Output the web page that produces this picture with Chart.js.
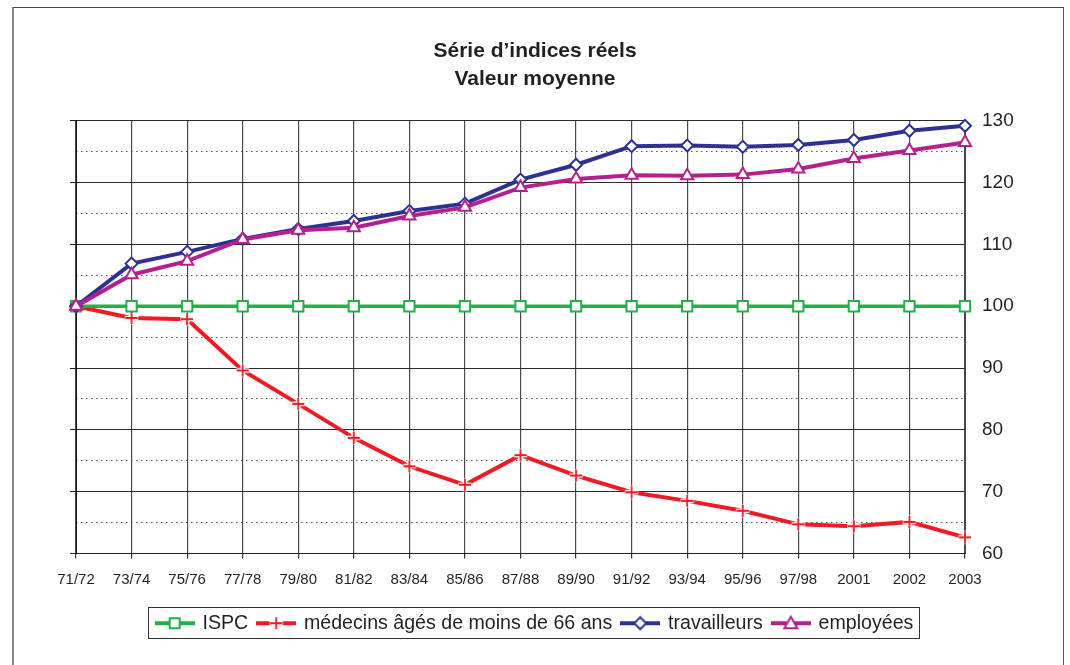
<!DOCTYPE html>
<html lang="fr">
<head>
    <meta charset="UTF-8">
    <title>Série d'indices réels</title>
    <script src="https://cdn.jsdelivr.net/npm/chart.js"></script>
    <style>
        body { margin: 0; background: #fff; }
        #wrap { position: relative; width: 1070px; height: 665px; }
        #frame {
            position: absolute; left: 12px; top: 7px; width: 1049px; height: 700px;
            border-left: 2px solid #8a8a8a; border-top: 1px solid #444; border-right: 1px solid #555;
            pointer-events: none;
        }
    </style>
</head>
<body>
<div id="wrap">
    <canvas id="myChart" width="1070" height="665"></canvas>
    <div id="frame"></div>
</div>

<script>
    // data
    const periodes = ['71/72', '73/74', '75/76', '77/78', '79/80', '81/82', '83/84', '85/86', '87/88',
        '89/90', '91/92', '93/94', '95/96', '97/98', '2001', '2002', '2003'];
    const ispc = [100, 100, 100, 100, 100, 100, 100, 100, 100, 100, 100, 100, 100, 100, 100, 100, 100];
    const medecins = [100, 98.1, 97.9, 89.6, 84.2, 78.7, 74.1, 71.1, 75.9, 72.6, 69.9, 68.5, 66.9, 64.7, 64.4, 65.1, 62.6];
    const travailleurs = [100, 106.9, 108.8, 110.9, 112.5, 113.8, 115.4, 116.6, 120.5, 122.9, 125.9, 126.0, 125.8, 126.1, 126.9, 128.4, 129.2];
    const employees = [100, 105.1, 107.3, 110.8, 112.3, 112.7, 114.6, 116.0, 119.2, 120.6, 121.2, 121.1, 121.3, 122.2, 123.9, 125.2, 126.5];
    const seriesNames = ['ISPC', 'médecins âgés de moins de 66 ans', 'travailleurs', 'employées'];

    const GREEN = '#22b04b', RED = '#ed1c24', BLUE = '#2e3192', MAGENTA = '#b4218e';
    const INK = '#231f20';
    const FONT = 'Liberation Sans, Arial, sans-serif';

    // draw one marker on a 2d context, centred on (x, y)
    function marker(g, kind, color, x, y) {
        g.save();
        g.fillStyle = '#fff';
        g.strokeStyle = color;
        g.lineWidth = 2;
        g.beginPath();
        if (kind === 'rect') {
            g.rect(x - 5, y - 5, 10, 10);
            g.fill(); g.stroke();
        } else if (kind === 'diamond') {
            g.moveTo(x, y - 6); g.lineTo(x + 6, y); g.lineTo(x, y + 6); g.lineTo(x - 6, y); g.closePath();
            g.fill(); g.stroke();
        } else if (kind === 'triangle') {
            g.moveTo(x, y - 6.5); g.lineTo(x + 6.5, y + 5); g.lineTo(x - 6.5, y + 5); g.closePath();
            g.fill(); g.stroke();
        } else {
            g.strokeStyle = '#fff'; g.lineWidth = 4.5;
            g.moveTo(x - 6.5, y); g.lineTo(x + 6.5, y); g.moveTo(x, y - 6.5); g.lineTo(x, y + 6.5);
            g.stroke();
            g.beginPath();
            g.strokeStyle = color; g.lineWidth = 1.8;
            g.moveTo(x - 6, y); g.lineTo(x + 6, y); g.moveTo(x, y - 6); g.lineTo(x, y + 6);
            g.stroke();
        }
        g.restore();
    }

    function crossImage() {
        const c = document.createElement('canvas');
        c.width = 16; c.height = 16;
        marker(c.getContext('2d'), 'cross', RED, 8, 8);
        return c;
    }

    function legendImage(kind, color) {
        const c = document.createElement('canvas');
        c.width = 40; c.height = 18;
        const g = c.getContext('2d');
        g.strokeStyle = color;
        g.lineWidth = 4;
        g.beginPath(); g.moveTo(0, 9); g.lineTo(40, 9); g.stroke();
        marker(g, kind, color, 20, 9);
        return c;
    }

    const legendImgs = [legendImage('rect', GREEN), legendImage('cross', RED),
        legendImage('diamond', BLUE), legendImage('triangle', MAGENTA)];

    // box around the legend
    const legendFrame = {
        id: 'legendFrame',
        afterDraw(chart) {
            const boxes = chart.legend.legendHitBoxes;
            if (!boxes || !boxes.length) return;
            let l = Infinity, r = -Infinity, t = Infinity, b = -Infinity;
            boxes.forEach(h => {
                l = Math.min(l, h.left); r = Math.max(r, h.left + h.width);
                t = Math.min(t, h.top); b = Math.max(b, h.top + h.height);
            });
            const ctx = chart.ctx;
            ctx.save();
            ctx.strokeStyle = '#333';
            ctx.lineWidth = 1;
            ctx.strokeRect(Math.round(l - 9) + 0.5, Math.round(t - 6) + 0.5, Math.round(r - l + 14), Math.round(b - t + 11));
            ctx.restore();
        }
    };

    const ctx = document.getElementById('myChart').getContext('2d');
    const myChart = new Chart(ctx, {
        type: 'line',
        data: {
            labels: periodes,
            datasets: [{
                label: seriesNames[0],
                data: ispc,
                borderColor: GREEN,
                borderWidth: 3.5,
                pointStyle: 'rect',
                pointRadius: 7.3,
                pointBorderWidth: 2,
                pointBackgroundColor: '#fff',
                pointBorderColor: GREEN,
                order: 2
            }, {
                label: seriesNames[1],
                data: medecins,
                borderColor: RED,
                borderWidth: 4,
                pointStyle: crossImage(),
                pointRadius: 7,
                order: 3
            }, {
                label: seriesNames[2],
                data: travailleurs,
                borderColor: BLUE,
                borderWidth: 4,
                pointStyle: 'rectRot',
                pointRadius: 6,
                pointBorderWidth: 2,
                pointBackgroundColor: '#fff',
                pointBorderColor: BLUE,
                order: 1
            }, {
                label: seriesNames[3],
                data: employees,
                borderColor: MAGENTA,
                borderWidth: 4,
                pointStyle: 'triangle',
                pointRadius: 7,
                pointBorderWidth: 2,
                pointBackgroundColor: '#fff',
                pointBorderColor: MAGENTA,
                order: 0
            }]
        },
        options: {
            responsive: false,
            animation: false,
            events: [],
            clip: false,
            layout: { padding: { top: 0, right: 0, bottom: 22, left: 0 } },
            elements: { line: { tension: 0 } },
            plugins: {
                tooltip: { enabled: false },
                title: {
                    display: true,
                    text: ['Série d\u2019indices réels', 'Valeur moyenne'],
                    color: INK,
                    font: { family: FONT, size: 21, weight: 'bold', lineHeight: 1.33 },
                    padding: { top: 37, bottom: 28 }
                },
                legend: {
                    position: 'bottom',
                    labels: {
                        usePointStyle: true,
                        pointStyleWidth: 36,
                        padding: 10,
                        color: INK,
                        font: { family: FONT, size: 19.6 },
                        generateLabels: (chart) => chart.data.datasets.map((ds, i) => ({
                            text: ds.label,
                            pointStyle: legendImgs[i],
                            fillStyle: ds.borderColor,
                            strokeStyle: ds.borderColor,
                            lineWidth: 0,
                            fontColor: INK,
                            datasetIndex: i,
                            hidden: false
                        }))
                    }
                }
            },
            scales: {
                x: {
                    offset: false,
                    grid: { color: '#4a4a4a', lineWidth: 1.2, drawTicks: true, tickLength: 5, tickColor: '#333' },
                    border: { color: '#222', width: 1 },
                    ticks: {
                        color: INK, padding: 12, maxRotation: 0, autoSkip: false,
                        font: { family: FONT, size: 15 }
                    },
                    afterFit(scale) { scale.height = 50; }
                },
                y: {
                    position: 'right',
                    min: 60, max: 130,
                    ticks: {
                        stepSize: 5,
                        padding: 17,
                        color: INK,
                        font: { family: FONT, size: 19 },
                        callback: (v) => (v % 10 === 0 ? v : '')
                    },
                    grid: {
                        drawTicks: false,
                        color: (c) => (c.tick && c.tick.value % 10 !== 0 ? '#555' : '#2a2a2a'),
                        lineWidth: 1
                    },
                    border: {
                        color: '#444',
                        dash: (c) => (c.tick && c.tick.value % 10 !== 0 ? [1.5, 3.5] : [])
                    },
                    afterFit(scale) { scale.width = 105; }
                },
                yl: {
                    position: 'left',
                    min: 60, max: 130,
                    ticks: { stepSize: 10, display: false },
                    grid: { drawOnChartArea: false, drawTicks: true, tickLength: 6, tickColor: '#222', color: '#222' },
                    border: { color: '#111', width: 1 },
                    afterFit(scale) { scale.width = 76; }
                }
            }
        },
        plugins: [legendFrame]
    });
</script>
</body>
</html>
